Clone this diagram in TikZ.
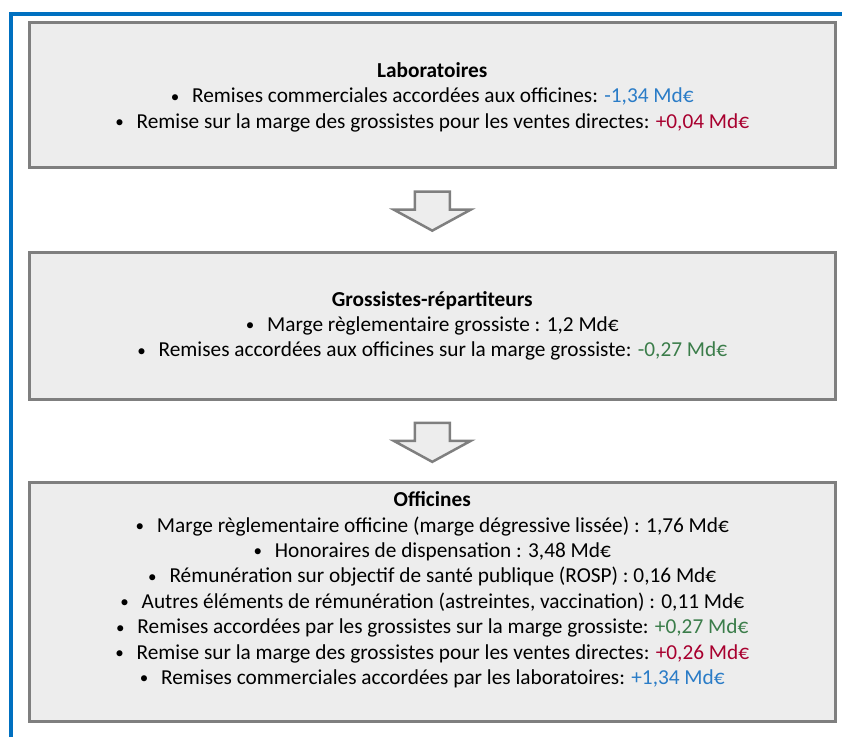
\documentclass[tikz,border=0pt]{standalone}
\usepackage{fontspec}
\usepackage{graphicx}
\setmainfont{Carlito}
\usetikzlibrary{positioning,calc}
\definecolor{cadreblue}{HTML}{0070C0}
\definecolor{boxgray}{HTML}{EDEDED}
\definecolor{boxline}{HTML}{7F7F7F}
\definecolor{montbleu}{HTML}{2A7CC7}
\definecolor{montrouge}{HTML}{A8002F}
\definecolor{montvert}{HTML}{3B7D4A}
\newcommand{\puce}[1]{\raisebox{0.5pt}{\scalebox{0.8}{\textbullet}}\hspace{0.6em}#1}
\tikzset{
  % cadres
  etage/.style={rectangle,draw=boxline,fill=boxgray,line width=3pt,
                minimum width=805.5pt,inner sep=0pt},
  etagetxt/.style={align=center,inner sep=0pt,
                   font=\fontsize{21.3}{25.4}\selectfont},
  % fleches
  flechebas/.pic={
    \draw[draw=boxline,fill=boxgray,line width=2.5pt,line join=miter]
      (-17.5,-19.5) -- (17.5,-19.5) -- (17.5,-1.5) -- (38.5,-1.5)
      -- (0,19.5) -- (-38.5,-1.5) -- (-17.5,-1.5) -- cycle;
  },
  cadre/.style={draw=cadreblue,line width=3.5pt},
}
\begin{document}
\begin{tikzpicture}[x=1pt,y=-1pt]
  \useasboundingbox (0,0) rectangle (842,737);
  \draw[cadre] (11,737) -- (11,14) -- (842,14);
  \node[etage,minimum height=145pt] (lab) at (432.25,94.5) {};
  \node[etage,minimum height=147.5pt] (gros) at (432.25,325.75) {};
  \node[etage,minimum height=239.5pt] (offi) at (432.25,601.75) {};
  \coordinate (f1) at ($(lab.south)!0.52!(gros.north)$);
  \coordinate (f2) at ($(gros.south)!0.52!(offi.north)$);
  \pic at (f1) {flechebas};
  \pic at (f2) {flechebas};
  \node[etagetxt,yshift=-2.5pt] (lab-txt) at (lab) {\textbf{Laboratoires}\\
    \puce{Remises commerciales accordées aux officines: \textcolor{montbleu}{-1,34 Md€}}\\
    \puce{Remise sur la marge des grossistes pour les ventes directes: \textcolor{montrouge}{+0,04 Md€}}};
  \node[etagetxt] (gros-txt) at (gros) {\textbf{Grossistes-répartiteurs}\\
    \puce{Marge règlementaire grossiste : 1,2 Md€}\\
    \puce{Remises accordées aux officines sur la marge grossiste: \textcolor{montvert}{-0,27 Md€}}};
  \node[etagetxt,anchor=north,yshift=-11pt] (offi-txt) at (offi.north) {\textbf{Officines}\\
    \puce{Marge règlementaire officine (marge dégressive lissée) : 1,76 Md€}\\
    \puce{Honoraires de dispensation : 3,48 Md€}\\
    \puce{Rémunération sur objectif de santé publique (ROSP) : 0,16 Md€}\\
    \puce{Autres éléments de rémunération (astreintes, vaccination) : 0,11 Md€}\\
    \puce{Remises accordées par les grossistes sur la marge grossiste: \textcolor{montvert}{+0,27 Md€}}\\
    \puce{Remise sur la marge des grossistes pour les ventes directes: \textcolor{montrouge}{+0,26 Md€}}\\
    \puce{Remises commerciales accordées par les laboratoires: \textcolor{montbleu}{+1,34 Md€}}};
\end{tikzpicture}
\end{document}
